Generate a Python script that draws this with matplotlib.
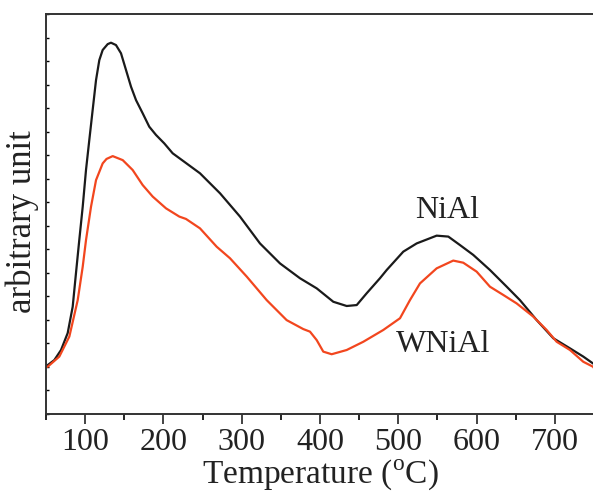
import numpy as np
import matplotlib
matplotlib.use('Agg')
import matplotlib.pyplot as plt
from matplotlib.ticker import MultipleLocator

plt.rcParams['font.family'] = 'Liberation Serif'
plt.rcParams['mathtext.fontset'] = 'custom'
plt.rcParams['mathtext.rm'] = 'Liberation Serif'

#----------data (temperature in C, signal in arbitrary units)----------
t_nial = [50, 52.2, 60.6, 69.2, 77.7, 84.1, 88.3, 92.5, 96.9, 101.1, 105.3, 109.6,
          113.9, 118.1, 122.4, 128.8, 133.0, 139.4, 145.8, 152.2, 158.6, 165.0,
          173.5, 181.9, 190.5, 201.1, 211.8, 226.6, 246.7, 272.3, 297.8, 323.3,
          348.9, 374.4, 395.8, 417.0, 434.1, 446.9, 459.6, 476.6, 485.2, 506.4,
          523.5, 549.0, 563.9, 578.8, 595.8, 617.1, 638.5, 655.4, 676.8, 698.0,
          719.3, 736.3, 748.7, 750]
y_nial = [2.04, 2.08, 2.29, 2.72, 3.44, 4.56, 5.99, 7.39, 8.81, 10.37, 11.64, 12.92,
          14.19, 15.04, 15.47, 15.72, 15.78, 15.68, 15.33, 14.62, 13.91, 13.34,
          12.78, 12.21, 11.86, 11.50, 11.08, 10.72, 10.23, 9.38, 8.39, 7.25,
          6.40, 5.77, 5.34, 4.77, 4.59, 4.63, 5.13, 5.77, 6.12, 6.90,
          7.25, 7.58, 7.54, 7.18, 6.76, 6.12, 5.41, 4.84, 3.99, 3.22,
          2.79, 2.44, 2.15, 2.12]

t_wnial = [50, 52.2, 67.0, 79.8, 90.5, 96.9, 101.1, 107.5, 113.9, 122.4, 127.3, 135.2,
           148.0, 160.7, 173.5, 186.3, 203.3, 220.3, 228.8, 246.7, 268.0, 285.0,
           306.4, 331.9, 357.4, 378.6, 387.2, 395.8, 404.2, 414.9, 434.1, 455.3,
           480.8, 502.2, 514.9, 527.7, 549.0, 570.2, 583.0, 600.1, 617.1, 634.1,
           651.2, 672.4, 689.5, 702.3, 719.3, 736.3, 748.7, 750]
y_wnial = [2.00, 2.01, 2.44, 3.29, 4.84, 6.26, 7.39, 8.81, 9.94, 10.65, 10.84, 10.96,
           10.79, 10.37, 9.73, 9.24, 8.74, 8.39, 8.29, 7.89, 7.11, 6.62,
           5.84, 4.84, 3.99, 3.61, 3.50, 3.14, 2.65, 2.54, 2.72, 3.07,
           3.57, 4.07, 4.84, 5.55, 6.19, 6.52, 6.43, 6.05, 5.41, 5.06,
           4.70, 4.14, 3.57, 3.07, 2.72, 2.22, 2.01, 1.95]

fig = plt.figure(figsize=(5.93, 4.94), dpi=100)
ax = fig.add_axes([46/593, 80/494, 548/593, 400/494])

ax.plot(t_nial, y_nial, color='#1a1a1a', lw=1.6, solid_joinstyle='round')
ax.plot(t_wnial, y_wnial, color='#f2461e', lw=1.6, solid_joinstyle='round')

ax.text(562, 8.65, 'NiAl', fontsize=23, ha='center', va='center', color='#222222')
ax.text(557, 2.95, 'WNiAl', fontsize=23, ha='center', va='center', color='#222222')

ax.set_xlim(50, 750)
ax.set_ylim(0, 17)
ax.xaxis.set_major_locator(MultipleLocator(100))
ax.xaxis.set_minor_locator(MultipleLocator(50))
ax.yaxis.set_major_locator(MultipleLocator(1))
ax.set_yticklabels([])
ax.tick_params(axis='x', which='major', direction='out', length=7, width=1.2,
               labelsize=23, colors='#222222', pad=3)
ax.tick_params(axis='x', which='minor', direction='out', length=4, width=1.2)
ax.tick_params(axis='y', direction='in', length=2, width=1.0)
ax.tick_params(top=False, right=False)
for s in ax.spines.values():
    s.set_linewidth(1.4)
    s.set_color('#333333')

ax.set_xlabel('Temperature ($^{\\rm o}$C)', fontsize=24, color='#222222', labelpad=0)
ax.set_ylabel('arbitrary unit', fontsize=25, color='#222222', va='center')
ax.yaxis.set_label_coords(-0.043, 0.48)

fig.savefig('out.png', dpi=100)
